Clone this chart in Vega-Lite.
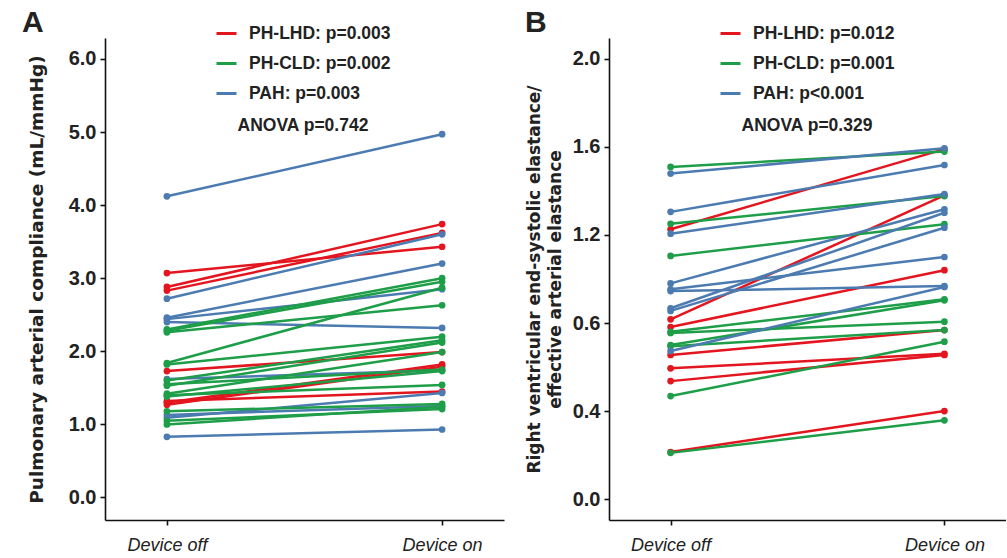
{
  "$schema": "https://vega.github.io/schema/vega-lite/v6.json",
  "padding": {"left": 22, "top": 8, "right": 0, "bottom": 0},
  "background": "white",
  "config": {
    "font": "Liberation Sans",
    "view": {"stroke": null},
    "axis": {"domainColor": "#111111", "domainWidth": 1.6, "tickColor": "#111111", "tickWidth": 1.6, "tickSize": 5, "grid": false, "labelColor": "#222222", "titleColor": "#222222"},
    "legend": {"orient": "none", "padding": 0, "symbolType": "stroke", "symbolStrokeWidth": 3, "symbolSize": 400, "labelOffset": 11, "rowPadding": 10, "labelFontSize": 17.5, "labelFontWeight": "bold", "labelColor": "#222222", "titleFontSize": 17.5, "titleFontWeight": "bold", "titleColor": "#222222", "titleOrient": "bottom", "titleAnchor": "middle", "titlePadding": 15, "titleLimit": 400, "labelLimit": 400}
  },
  "datasets": {
    "A": [
      {"id": "r1", "group": "PH-LHD", "condition": "Device off", "value": 3.07}, {"id": "r1", "group": "PH-LHD", "condition": "Device on", "value": 3.43},
      {"id": "r2", "group": "PH-LHD", "condition": "Device off", "value": 2.88}, {"id": "r2", "group": "PH-LHD", "condition": "Device on", "value": 3.74},
      {"id": "r3", "group": "PH-LHD", "condition": "Device off", "value": 2.83}, {"id": "r3", "group": "PH-LHD", "condition": "Device on", "value": 3.62},
      {"id": "r4", "group": "PH-LHD", "condition": "Device off", "value": 1.73}, {"id": "r4", "group": "PH-LHD", "condition": "Device on", "value": 1.99},
      {"id": "r5", "group": "PH-LHD", "condition": "Device off", "value": 1.30}, {"id": "r5", "group": "PH-LHD", "condition": "Device on", "value": 1.82},
      {"id": "r6", "group": "PH-LHD", "condition": "Device off", "value": 1.27}, {"id": "r6", "group": "PH-LHD", "condition": "Device on", "value": 1.79},
      {"id": "r7", "group": "PH-LHD", "condition": "Device off", "value": 1.32}, {"id": "r7", "group": "PH-LHD", "condition": "Device on", "value": 1.45},
      {"id": "b1", "group": "PAH", "condition": "Device off", "value": 4.12}, {"id": "b1", "group": "PAH", "condition": "Device on", "value": 4.97},
      {"id": "b2", "group": "PAH", "condition": "Device off", "value": 2.72}, {"id": "b2", "group": "PAH", "condition": "Device on", "value": 3.60},
      {"id": "b3", "group": "PAH", "condition": "Device off", "value": 2.46}, {"id": "b3", "group": "PAH", "condition": "Device on", "value": 3.20},
      {"id": "b4", "group": "PAH", "condition": "Device off", "value": 2.44}, {"id": "b4", "group": "PAH", "condition": "Device on", "value": 2.85},
      {"id": "b5", "group": "PAH", "condition": "Device off", "value": 2.40}, {"id": "b5", "group": "PAH", "condition": "Device on", "value": 2.32},
      {"id": "b6", "group": "PAH", "condition": "Device off", "value": 1.62}, {"id": "b6", "group": "PAH", "condition": "Device on", "value": 1.74},
      {"id": "b7", "group": "PAH", "condition": "Device off", "value": 1.09}, {"id": "b7", "group": "PAH", "condition": "Device on", "value": 1.43},
      {"id": "b8", "group": "PAH", "condition": "Device off", "value": 1.13}, {"id": "b8", "group": "PAH", "condition": "Device on", "value": 1.25},
      {"id": "b9", "group": "PAH", "condition": "Device off", "value": 0.83}, {"id": "b9", "group": "PAH", "condition": "Device on", "value": 0.93},
      {"id": "g1", "group": "PH-CLD", "condition": "Device off", "value": 2.30}, {"id": "g1", "group": "PH-CLD", "condition": "Device on", "value": 3.00},
      {"id": "g2", "group": "PH-CLD", "condition": "Device off", "value": 2.28}, {"id": "g2", "group": "PH-CLD", "condition": "Device on", "value": 2.95},
      {"id": "g3", "group": "PH-CLD", "condition": "Device off", "value": 2.26}, {"id": "g3", "group": "PH-CLD", "condition": "Device on", "value": 2.63},
      {"id": "g4", "group": "PH-CLD", "condition": "Device off", "value": 1.84}, {"id": "g4", "group": "PH-CLD", "condition": "Device on", "value": 2.87},
      {"id": "g5", "group": "PH-CLD", "condition": "Device off", "value": 1.82}, {"id": "g5", "group": "PH-CLD", "condition": "Device on", "value": 2.20},
      {"id": "g6", "group": "PH-CLD", "condition": "Device off", "value": 1.60}, {"id": "g6", "group": "PH-CLD", "condition": "Device on", "value": 2.15},
      {"id": "g7", "group": "PH-CLD", "condition": "Device off", "value": 1.53}, {"id": "g7", "group": "PH-CLD", "condition": "Device on", "value": 2.12},
      {"id": "g8", "group": "PH-CLD", "condition": "Device off", "value": 1.42}, {"id": "g8", "group": "PH-CLD", "condition": "Device on", "value": 1.99},
      {"id": "g9", "group": "PH-CLD", "condition": "Device off", "value": 1.55}, {"id": "g9", "group": "PH-CLD", "condition": "Device on", "value": 1.75},
      {"id": "g10", "group": "PH-CLD", "condition": "Device off", "value": 1.40}, {"id": "g10", "group": "PH-CLD", "condition": "Device on", "value": 1.54},
      {"id": "g11", "group": "PH-CLD", "condition": "Device off", "value": 1.38}, {"id": "g11", "group": "PH-CLD", "condition": "Device on", "value": 1.73},
      {"id": "g12", "group": "PH-CLD", "condition": "Device off", "value": 1.18}, {"id": "g12", "group": "PH-CLD", "condition": "Device on", "value": 1.28},
      {"id": "g13", "group": "PH-CLD", "condition": "Device off", "value": 1.05}, {"id": "g13", "group": "PH-CLD", "condition": "Device on", "value": 1.21},
      {"id": "g14", "group": "PH-CLD", "condition": "Device off", "value": 1.00}, {"id": "g14", "group": "PH-CLD", "condition": "Device on", "value": 1.24}
    ],
    "B": [
      {"id": "r1", "group": "PH-LHD", "condition": "Device off", "value": 1.226}, {"id": "r1", "group": "PH-LHD", "condition": "Device on", "value": 1.59},
      {"id": "r2", "group": "PH-LHD", "condition": "Device off", "value": 0.817}, {"id": "r2", "group": "PH-LHD", "condition": "Device on", "value": 1.38},
      {"id": "r3", "group": "PH-LHD", "condition": "Device off", "value": 0.782}, {"id": "r3", "group": "PH-LHD", "condition": "Device on", "value": 1.04},
      {"id": "r4", "group": "PH-LHD", "condition": "Device off", "value": 0.655}, {"id": "r4", "group": "PH-LHD", "condition": "Device on", "value": 0.768},
      {"id": "r5", "group": "PH-LHD", "condition": "Device off", "value": 0.594}, {"id": "r5", "group": "PH-LHD", "condition": "Device on", "value": 0.66},
      {"id": "r6", "group": "PH-LHD", "condition": "Device off", "value": 0.536}, {"id": "r6", "group": "PH-LHD", "condition": "Device on", "value": 0.655},
      {"id": "r7", "group": "PH-LHD", "condition": "Device off", "value": 0.214}, {"id": "r7", "group": "PH-LHD", "condition": "Device on", "value": 0.40},
      {"id": "g1", "group": "PH-CLD", "condition": "Device off", "value": 1.509}, {"id": "g1", "group": "PH-CLD", "condition": "Device on", "value": 1.579},
      {"id": "g2", "group": "PH-CLD", "condition": "Device off", "value": 1.251}, {"id": "g2", "group": "PH-CLD", "condition": "Device on", "value": 1.377},
      {"id": "g3", "group": "PH-CLD", "condition": "Device off", "value": 1.105}, {"id": "g3", "group": "PH-CLD", "condition": "Device on", "value": 1.249},
      {"id": "g4", "group": "PH-CLD", "condition": "Device off", "value": 0.76}, {"id": "g4", "group": "PH-CLD", "condition": "Device on", "value": 0.908},
      {"id": "g5", "group": "PH-CLD", "condition": "Device off", "value": 0.755}, {"id": "g5", "group": "PH-CLD", "condition": "Device on", "value": 0.806},
      {"id": "g6", "group": "PH-CLD", "condition": "Device off", "value": 0.70}, {"id": "g6", "group": "PH-CLD", "condition": "Device on", "value": 0.903},
      {"id": "g7", "group": "PH-CLD", "condition": "Device off", "value": 0.695}, {"id": "g7", "group": "PH-CLD", "condition": "Device on", "value": 0.768},
      {"id": "g8", "group": "PH-CLD", "condition": "Device off", "value": 0.468}, {"id": "g8", "group": "PH-CLD", "condition": "Device on", "value": 0.715},
      {"id": "g9", "group": "PH-CLD", "condition": "Device off", "value": 0.21}, {"id": "g9", "group": "PH-CLD", "condition": "Device on", "value": 0.358},
      {"id": "b1", "group": "PAH", "condition": "Device off", "value": 1.479}, {"id": "b1", "group": "PAH", "condition": "Device on", "value": 1.594},
      {"id": "b2", "group": "PAH", "condition": "Device off", "value": 1.305}, {"id": "b2", "group": "PAH", "condition": "Device on", "value": 1.518},
      {"id": "b3", "group": "PAH", "condition": "Device off", "value": 1.206}, {"id": "b3", "group": "PAH", "condition": "Device on", "value": 1.386},
      {"id": "b4", "group": "PAH", "condition": "Device off", "value": 0.98}, {"id": "b4", "group": "PAH", "condition": "Device on", "value": 1.317},
      {"id": "b5", "group": "PAH", "condition": "Device off", "value": 0.953}, {"id": "b5", "group": "PAH", "condition": "Device on", "value": 1.10},
      {"id": "b6", "group": "PAH", "condition": "Device off", "value": 0.945}, {"id": "b6", "group": "PAH", "condition": "Device on", "value": 0.968},
      {"id": "b7", "group": "PAH", "condition": "Device off", "value": 0.867}, {"id": "b7", "group": "PAH", "condition": "Device on", "value": 1.301},
      {"id": "b8", "group": "PAH", "condition": "Device off", "value": 0.855}, {"id": "b8", "group": "PAH", "condition": "Device on", "value": 1.233},
      {"id": "b9", "group": "PAH", "condition": "Device off", "value": 0.673}, {"id": "b9", "group": "PAH", "condition": "Device on", "value": 0.964}
    ]
  },
  "bounds": "flush",
  "spacing": 105,
  "resolve": {"scale": {"color": "independent", "x": "independent", "y": "independent"}, "legend": {"color": "independent"}},
  "hconcat": [
    {
      "width": 399,
      "height": 482,
      "title": {"text": "A", "anchor": "start", "frame": "group", "dx": -83, "fontSize": 30, "fontWeight": "bold", "baseline": "alphabetic", "offset": -40, "color": "#222222"},
      "data": {"name": "A"},
      "encoding": {
        "x": {"field": "condition", "type": "ordinal", "scale": {"type": "point", "padding": 0.225, "domain": ["Device off", "Device on"]}, "axis": {"title": null, "labelAngle": 0, "labelFontStyle": "italic", "labelFontSize": 18, "labelPadding": 11}},
        "y": {"field": "value", "type": "quantitative", "scale": {"domain": [-0.308, 6.286], "nice": false, "zero": false}, "axis": {"values": [0, 1, 2, 3, 4, 5, 6], "format": ".1f", "title": "Pulmonary arterial compliance (mL/mmHg)", "labelFontSize": 20, "labelFontWeight": "bold", "labelPadding": 4, "titleFont": "DejaVu Sans", "titleFontSize": 18.5, "titleFontWeight": "bold", "titlePadding": 22}},
        "color": {"field": "group", "type": "nominal", "scale": {"domain": ["PH-LHD", "PH-CLD", "PAH"], "range": ["#e3151f", "#1e9e48", "#4b7bb0"]}, "legend": {"legendX": 110, "legendY": -16, "title": "ANOVA p=0.742", "labelExpr": "datum.label == 'PH-LHD' ? 'PH-LHD: p=0.003' : datum.label == 'PH-CLD' ? 'PH-CLD: p=0.002' : 'PAH: p=0.003'"}},
        "detail": {"field": "id"}
      },
      "layer": [
        {"mark": {"type": "line", "strokeWidth": 2.5}},
        {"mark": {"type": "circle", "size": 45, "opacity": 1}}
      ]
    },
    {
      "width": 397,
      "height": 482,
      "title": {"text": "B", "anchor": "start", "frame": "group", "dx": -84, "fontSize": 30, "fontWeight": "bold", "baseline": "alphabetic", "offset": -40, "color": "#222222"},
      "data": {"name": "B"},
      "encoding": {
        "x": {"field": "condition", "type": "ordinal", "scale": {"type": "point", "padding": 0.225, "domain": ["Device off", "Device on"]}, "axis": {"title": null, "labelAngle": 0, "labelFontStyle": "italic", "labelFontSize": 18, "labelPadding": 11}},
        "y": {"field": "value", "type": "quantitative", "scale": {"domain": [-0.095, 2.095], "nice": false, "zero": false}, "axis": {"values": [0, 0.4, 0.8, 1.2, 1.6, 2.0], "labelExpr": "datum.value == 0.8 ? '0.6' : format(datum.value, '.1f')", "title": ["Right ventricular end-systolic elastance/", "effective arterial elastance"], "titleLineHeight": 21, "labelFontSize": 20, "labelFontWeight": "bold", "labelPadding": 4, "titleFont": "DejaVu Sans", "titleFontSize": 17, "titleFontWeight": "bold", "titlePadding": 8}},
        "color": {"field": "group", "type": "nominal", "scale": {"domain": ["PH-LHD", "PH-CLD", "PAH"], "range": ["#e3151f", "#1e9e48", "#4b7bb0"]}, "legend": {"legendX": 110, "legendY": -16, "title": "ANOVA p=0.329", "labelExpr": "datum.label == 'PH-LHD' ? 'PH-LHD: p=0.012' : datum.label == 'PH-CLD' ? 'PH-CLD: p=0.001' : 'PAH: p<0.001'"}},
        "detail": {"field": "id"}
      },
      "layer": [
        {"mark": {"type": "line", "strokeWidth": 2.5}},
        {"mark": {"type": "circle", "size": 45, "opacity": 1}}
      ]
    }
  ]
}
